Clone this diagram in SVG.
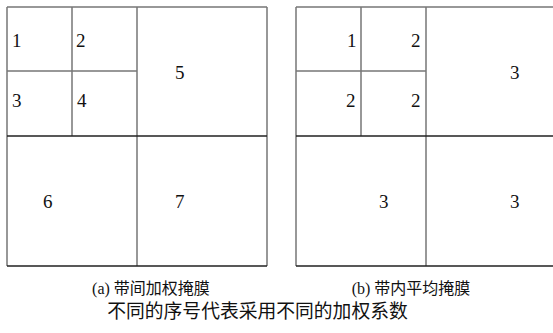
<svg xmlns="http://www.w3.org/2000/svg" width="553" height="333" viewBox="0 0 553 333">
<style>
.g{stroke:#777;stroke-width:1.5;fill:none}
.k{stroke:#222;stroke-width:1.5;fill:none}
.n{font-family:"Liberation Serif","Times New Roman",serif;font-size:19px;fill:#111}
.c{font-family:"Liberation Serif","Noto Sans CJK SC",serif;font-size:16px;fill:#111;text-anchor:middle}
</style>
<rect width="553" height="333" fill="#fff"/>
<g id="connectors">
  <!-- left grid -->
  <path class="g" d="M7,7 H267 M7,7 V266 M267,7 V266 M137,7 V266 M72,7 V136 M7,71 H137"/>
  <path class="k" d="M7,136 H267 M7,266 H267"/>
  <!-- right grid -->
  <path class="g" d="M296,7 H556 M296,7 V266 M426,7 V266 M361,7 V136 M296,71 H426"/>
  <path class="k" d="M296,136 H556 M296,266 H556"/>
</g>
<g id="gridA">
  <text class="n" x="12" y="47">1</text>
  <text class="n" x="76" y="47">2</text>
  <text class="n" x="12" y="107">3</text>
  <text class="n" x="77" y="107">4</text>
  <text class="n" x="175" y="79">5</text>
  <text class="n" x="43" y="208">6</text>
  <text class="n" x="175" y="208">7</text>
</g>
<g id="gridB">
  <text class="n" x="347" y="47">1</text>
  <text class="n" x="411" y="47">2</text>
  <text class="n" x="346" y="107">2</text>
  <text class="n" x="411" y="107">2</text>
  <text class="n" x="510" y="79">3</text>
  <text class="n" x="379" y="208">3</text>
  <text class="n" x="510" y="208">3</text>
</g>
<g id="captions">
  <text class="c" x="151" y="294">(a) 带间加权掩膜</text>
  <text class="c" x="411" y="294">(b) 带内平均掩膜</text>
  <text class="c" x="257.5" y="318" style="font-size:18.8px">不同的序号代表采用不同的加权系数</text>
</g>
</svg>
